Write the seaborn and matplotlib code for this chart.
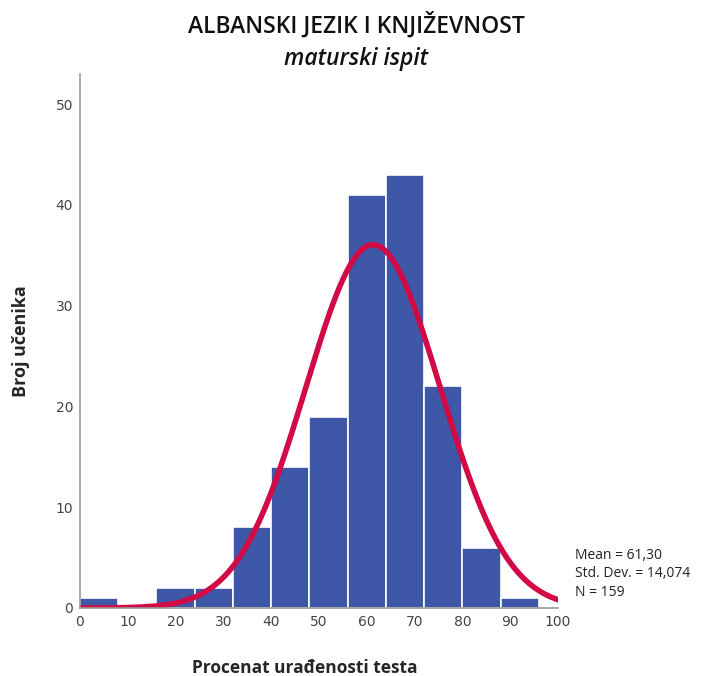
import numpy as np
import pandas as pd
import matplotlib
matplotlib.use("Agg")
import matplotlib.pyplot as plt
import seaborn as sns

# Histogram bins (score percentage) and student counts per bin
bin_edges = [0, 8, 16, 24, 32, 40, 48, 56, 64, 72, 80, 88, 96]
counts = [1, 0, 2, 2, 8, 14, 19, 41, 43, 22, 6, 1]
mean_val = 61.30
std_val = 14.074
n_total = 159

x_ticks = [0, 10, 20, 30, 40, 50, 60, 70, 80, 90, 100]
y_ticks = [0, 10, 20, 30, 40, 50]

sns.set_theme(style="white")

centers = [(a + b) / 2 for a, b in zip(bin_edges[:-1], bin_edges[1:])]
df = pd.DataFrame({"score": centers, "n": counts})

fig = plt.figure(figsize=(7.13, 6.76), dpi=100)
ax = fig.add_axes([0.1122, 0.1006, 0.6704, 0.7899])

sns.histplot(data=df, x="score", weights="n", bins=bin_edges, ax=ax,
             color="#3F57A7", alpha=1.0, edgecolor="white", linewidth=1.2)

# Fitted normal curve scaled to counts
bw = bin_edges[1] - bin_edges[0]
xs = np.linspace(0, 100, 400)
ys = n_total * bw / (std_val * np.sqrt(2 * np.pi)) * np.exp(-0.5 * ((xs - mean_val) / std_val) ** 2)
sns.lineplot(x=xs, y=ys, ax=ax, color="#D20A45", linewidth=4, solid_capstyle="round")

ax.set_xlim(0, 100)
ax.set_ylim(0, 53)
ax.set_xticks(x_ticks)
ax.set_yticks(y_ticks)
ax.tick_params(axis="both", labelsize=10, colors="#444444", length=0, pad=5)
for lbl in ax.get_xticklabels() + ax.get_yticklabels():
    lbl.set_family("DejaVu Sans")
for s in ["top", "right"]:
    ax.spines[s].set_visible(False)
for s in ["left", "bottom"]:
    ax.spines[s].set_color("#999999")
    ax.spines[s].set_linewidth(1.2)

ax.set_xlabel("Procenat urađenosti testa", fontsize=12.5, fontweight="bold",
              family=["Open Sans", "DejaVu Sans"])
ax.xaxis.set_label_coords(0.47, -0.095)
ax.set_ylabel("Broj učenika", fontsize=13, fontweight="bold",
              family=["Open Sans", "DejaVu Sans"])
ax.yaxis.set_label_coords(-0.105, 0.5)

fig.text(0.5, 0.962, "ALBANSKI JEZIK I KNJIŽEVNOST", ha="center", va="center",
         fontsize=16.5, fontweight="semibold", family=["Open Sans", "DejaVu Sans"],
         color="#111111")
fig.text(0.5, 0.912, "maturski ispit", ha="center", va="center",
         fontsize=16.5, style="italic", fontweight="semibold",
         family=["Open Sans", "DejaVu Sans"], color="#111111")

stats = "\n".join([
    "Mean = " + f"{mean_val:.2f}".replace(".", ","),
    "Std. Dev. = " + f"{std_val:.3f}".replace(".", ","),
    f"N = {n_total}",
])
fig.text(0.806, 0.113, stats, ha="left", va="bottom", fontsize=10,
         linespacing=1.3, family=["Open Sans", "DejaVu Sans"], color="#222222")

fig.savefig("out.png", dpi=100)
